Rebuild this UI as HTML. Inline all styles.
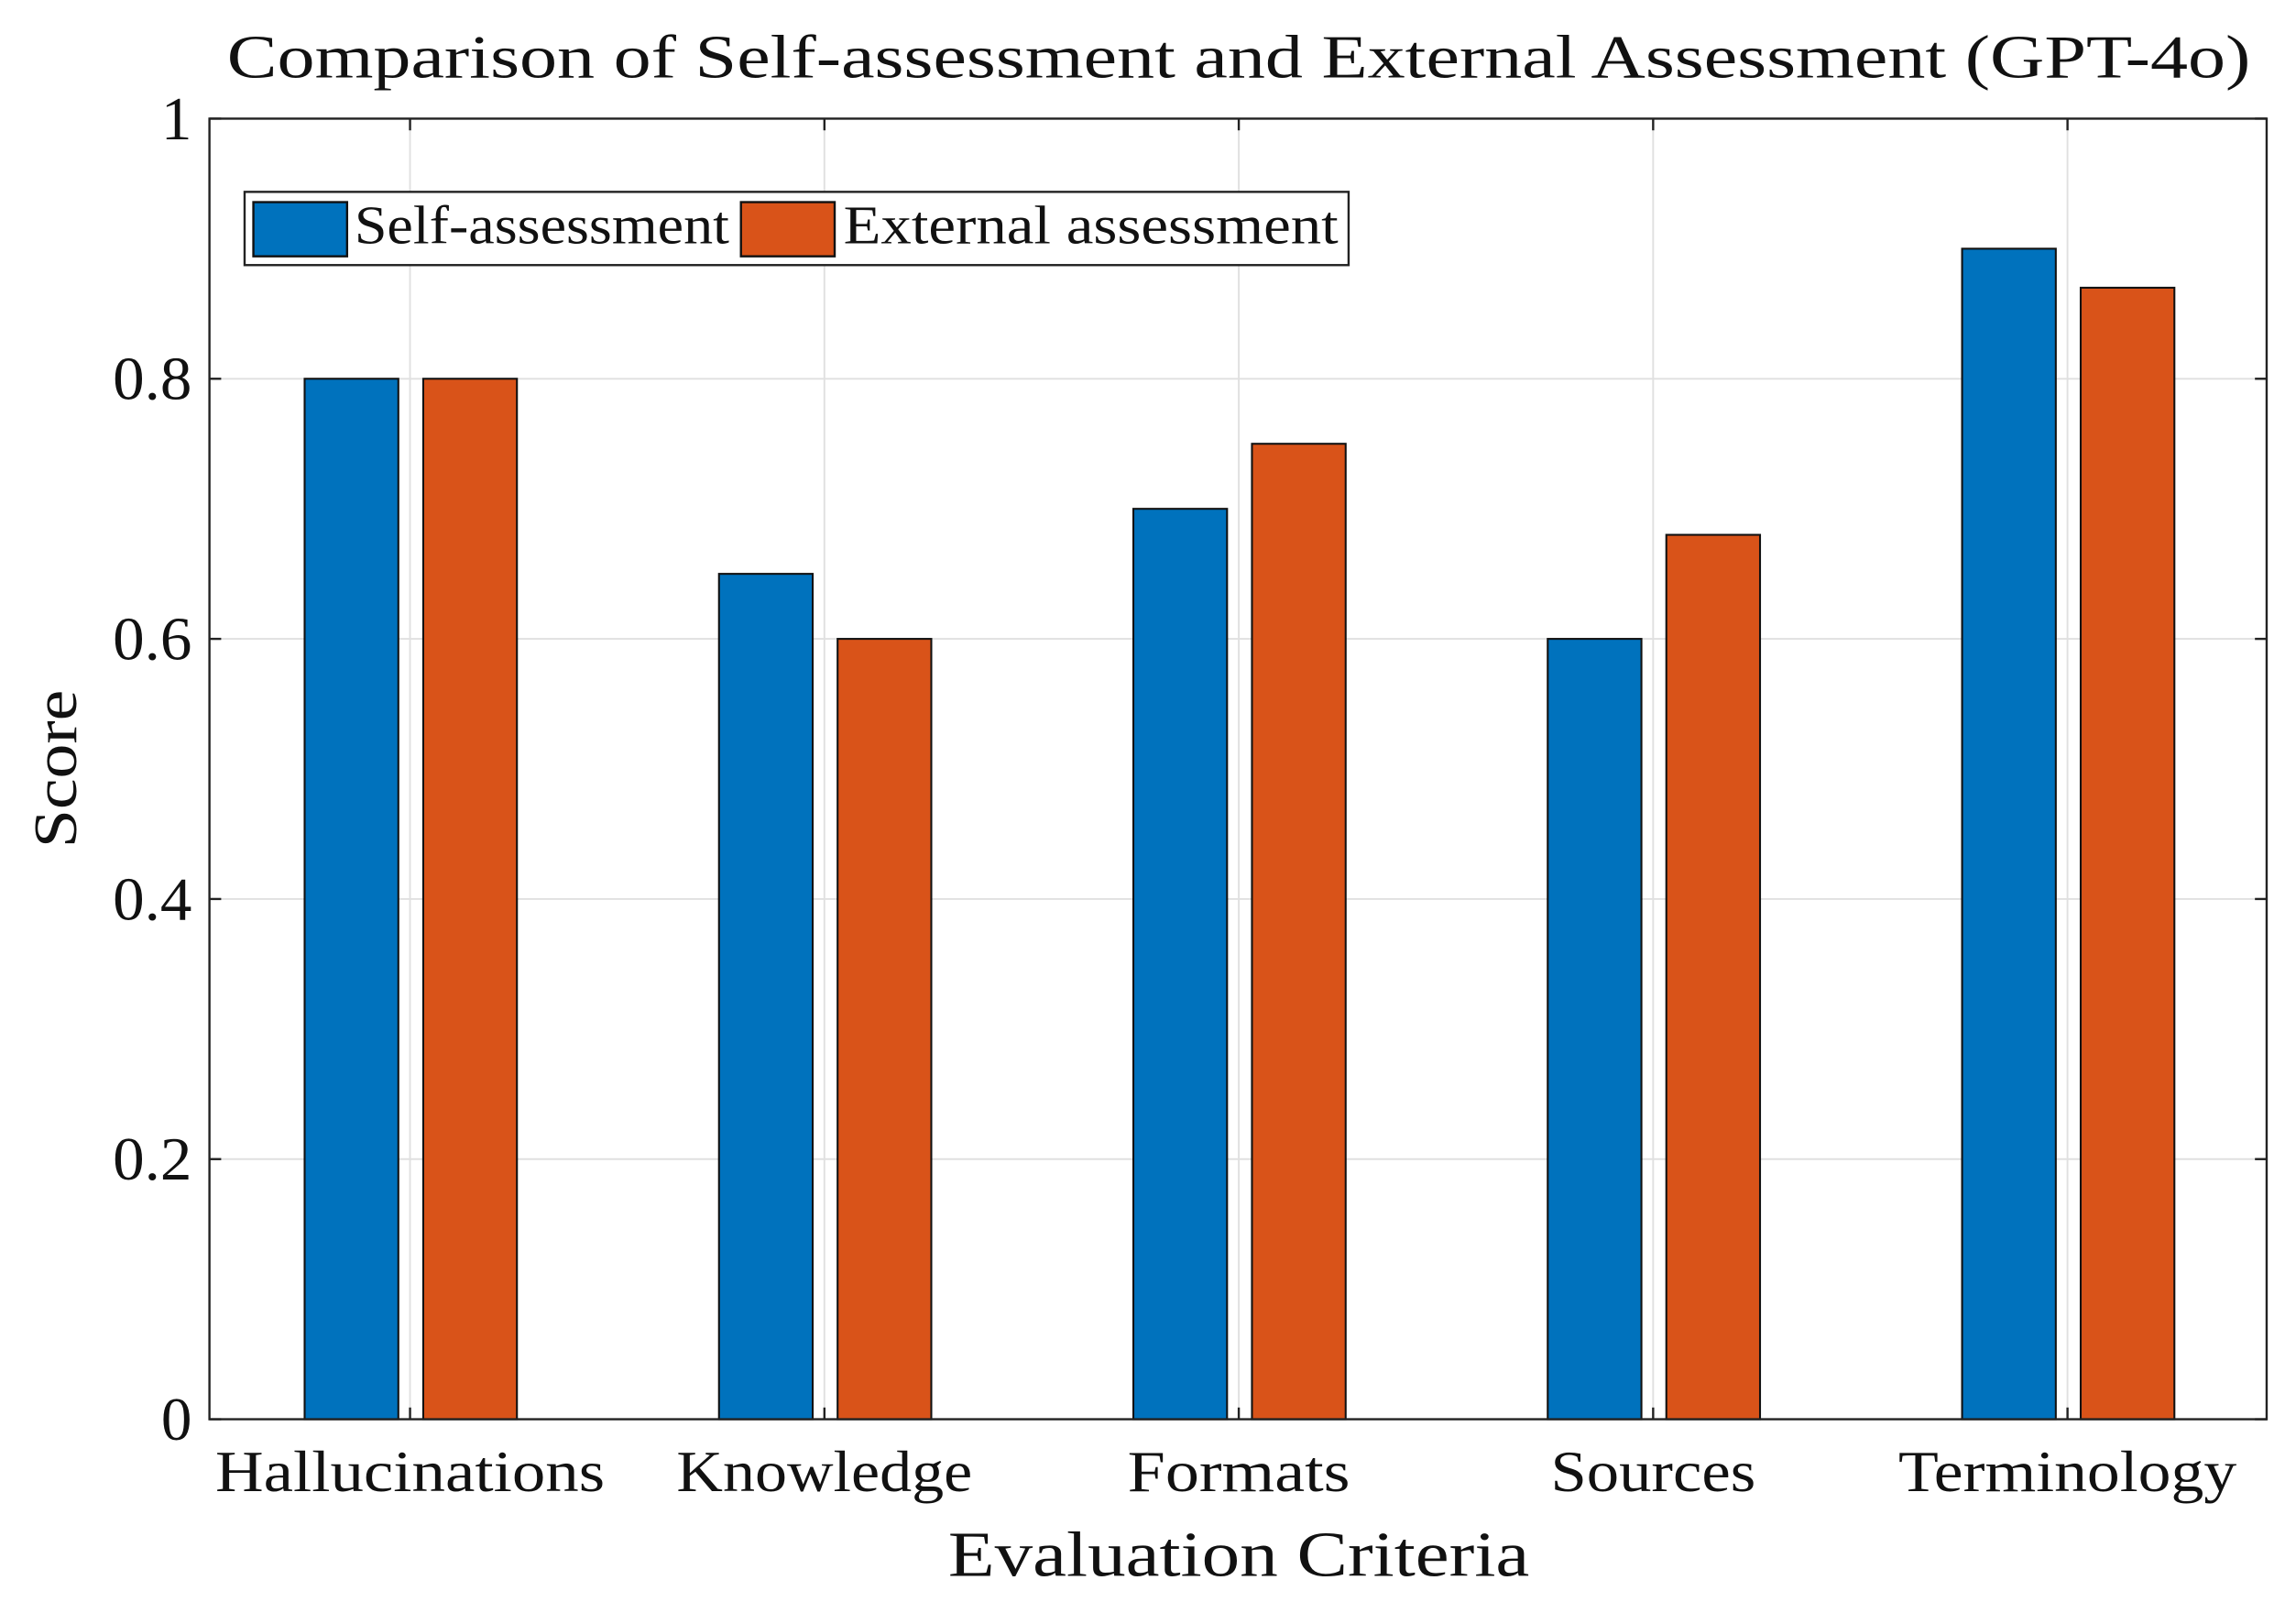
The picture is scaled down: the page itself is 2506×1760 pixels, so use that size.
<!DOCTYPE html>
<html><head><meta charset="utf-8">
<style>
html,body{margin:0;padding:0;background:#fff;}
svg{display:block;}
text{font-family:"Liberation Serif",serif;fill:#111;}
</style></head>
<body>
<svg id="chart" width="2506" height="1760" viewBox="0 0 1568 1101.3" xmlns="http://www.w3.org/2000/svg">
<rect x="0" y="0" width="1568" height="1101.3" fill="#fff"/>
<text x="846" y="53" text-anchor="middle" font-size="42" textLength="1382" lengthAdjust="spacingAndGlyphs">Comparison of Self-assessment and External Assessment (GPT-4o)</text>
<g id="grid"></g>
<g id="bars"></g>
<g id="axes"></g>
<g>
  <rect x="167" y="131" width="754" height="50" fill="#fff" stroke="#222" stroke-width="1.5"/>
  <rect x="173" y="138" width="64" height="37" fill="#0072BD" stroke="#111" stroke-width="1.5"/>
  <text x="242" y="166" font-size="37" textLength="256" lengthAdjust="spacingAndGlyphs">Self-assessment</text>
  <rect x="506" y="138" width="64" height="37" fill="#D95319" stroke="#111" stroke-width="1.5"/>
  <text x="576" y="166" font-size="37" textLength="338" lengthAdjust="spacingAndGlyphs">External assessment</text>
</g>
<text x="846" y="1076" text-anchor="middle" font-size="44" textLength="397" lengthAdjust="spacingAndGlyphs">Evaluation Criteria</text>
<text transform="translate(52,525) rotate(-90)" text-anchor="middle" font-size="42" textLength="108" lengthAdjust="spacingAndGlyphs">Score</text>
</svg>
<script>
const categories = ["Hallucinations","Knowledge","Formats","Sources","Terminology"];
const selfScores = [0.8, 0.65, 0.7, 0.6, 0.9];
const externalScores = [0.8, 0.6, 0.75, 0.68, 0.87];
const yTicks = [0, 0.2, 0.4, 0.6, 0.8, 1];
const yTickLabels = ["0","0.2","0.4","0.6","0.8","1"];

const labelWidths = {"Hallucinations":266,"Knowledge":202,"Formats":152,"Sources":140,"Terminology":231};
const NS = "http://www.w3.org/2000/svg";
const L = 143, R = 1548, T = 81, B = 969;
const x0 = 280, dx = 283;
function xScale(i){ return x0 + i*dx; }
function yScale(v){ return B - v*(B-T); }
function mk(tag, attrs, parent){
  const e = document.createElementNS(NS, tag);
  for (const k in attrs) e.setAttribute(k, attrs[k]);
  parent.appendChild(e); return e;
}
const grid = document.getElementById('grid');
const bars = document.getElementById('bars');
const axes = document.getElementById('axes');

yTicks.forEach((v,i)=>{
  const y = yScale(v);
  if (v>0 && v<1) {
    const g = mk('line',{x1:L,x2:R,y1:y,y2:y,stroke:'#e0e0e0','stroke-width':1.2},grid);
    
    
  }
  mk('line',{x1:L,x2:L+8,y1:y,y2:y,stroke:'#222','stroke-width':1.5},axes);
  mk('line',{x1:R-8,x2:R,y1:y,y2:y,stroke:'#222','stroke-width':1.5},axes);
  const lbl = yTickLabels[i];
  const attrs = {x:L-12,y:y+14,'text-anchor':'end','font-size':42};
  if (lbl.length>1) { attrs.textLength = 54; attrs.lengthAdjust='spacingAndGlyphs'; }
  const t = mk('text',attrs,axes);
  t.textContent = lbl;
  
  
});
categories.forEach((c,i)=>{
  const x = xScale(i);
  const g = mk('line',{x1:x,x2:x,y1:T,y2:B,stroke:'#e0e0e0','stroke-width':1.2},grid);
  
  
  mk('line',{x1:x,x2:x,y1:B-8,y2:B,stroke:'#222','stroke-width':1.5},axes);
  mk('line',{x1:x,x2:x,y1:T,y2:T+8,stroke:'#222','stroke-width':1.5},axes);
  const t = mk('text',{x:x,y:1018,'text-anchor':'middle','font-size':40,textLength:labelWidths[c]||200,lengthAdjust:'spacingAndGlyphs'},axes);
  t.textContent = c;
  
  
  const bw = 64;
  const b1 = mk('rect',{x:x-40-bw/2,y:yScale(selfScores[i]),width:bw,height:B-yScale(selfScores[i]),fill:'#0072BD',stroke:'#111','stroke-width':1.3},bars);
  
  
  const b2 = mk('rect',{x:x+41-bw/2,y:yScale(externalScores[i]),width:bw,height:B-yScale(externalScores[i]),fill:'#D95319',stroke:'#111','stroke-width':1.3},bars);
  
  
});
const box = mk('rect',{x:L,y:T,width:R-L,height:B-T,fill:'none',stroke:'#222','stroke-width':1.5},axes);


</script>
</body></html>
